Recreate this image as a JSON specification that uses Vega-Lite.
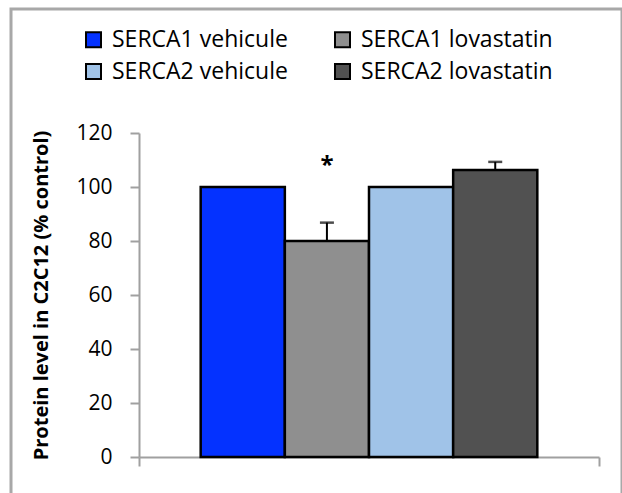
{
  "$schema": "https://vega.github.io/schema/vega-lite/v6.json",
  "width": 611,
  "height": 490,
  "autosize": {"type": "none"},
  "padding": {"left": 11, "top": 9, "right": 0, "bottom": -6},
  "background": "white",
  "config": {
    "font": "Open Sans",
    "view": {"stroke": "#a8a8a8", "strokeWidth": 3}
  },
  "data": {
    "values": [
      {"cell": "C2C12", "series": "SERCA1 vehicule", "value": 100},
      {"cell": "C2C12", "series": "SERCA1 lovastatin", "value": 80, "upper": 86.8, "sig": "*"},
      {"cell": "C2C12", "series": "SERCA2 vehicule", "value": 100},
      {"cell": "C2C12", "series": "SERCA2 lovastatin", "value": 106.3, "upper": 109.3}
    ]
  },
  "encoding": {
    "x": {
      "field": "cell",
      "type": "nominal",
      "scale": {"range": [128, 588], "paddingInner": 0, "paddingOuter": 0},
      "axis": {
        "title": null,
        "labels": false,
        "offset": -42,
        "tickBand": "extent",
        "domainColor": "#a0a0a0",
        "domainWidth": 2,
        "tickColor": "#a0a0a0",
        "tickWidth": 2,
        "tickSize": 9
      }
    },
    "xOffset": {
      "field": "series",
      "type": "nominal",
      "sort": ["SERCA1 vehicule", "SERCA1 lovastatin", "SERCA2 vehicule", "SERCA2 lovastatin"],
      "scale": {"paddingInner": 0, "paddingOuter": 0.733}
    }
  },
  "layer": [
    {
      "mark": {"type": "bar", "stroke": "black", "strokeWidth": 2.5},
      "encoding": {
        "y": {
          "field": "value",
          "type": "quantitative",
          "title": "Protein level in C2C12 (% control)",
          "scale": {"domain": [0, 120], "range": [448, 124], "nice": false, "zero": true},
          "axis": {
            "values": [0, 20, 40, 60, 80, 100, 120],
            "offset": -128,
            "grid": false,
            "domainColor": "#a0a0a0",
            "domainWidth": 2,
            "tickColor": "#a0a0a0",
            "tickWidth": 2,
            "tickSize": 9,
            "labelFontSize": 21,
            "labelColor": "black",
            "labelPadding": 18,
            "titleFontSize": 20,
            "titleFontWeight": "bold",
            "titleColor": "black",
            "titlePadding": 24
          }
        },
        "color": {
          "field": "series",
          "type": "nominal",
          "sort": ["SERCA1 vehicule", "SERCA1 lovastatin", "SERCA2 vehicule", "SERCA2 lovastatin"],
          "scale": {
            "domain": ["SERCA1 vehicule", "SERCA1 lovastatin", "SERCA2 vehicule", "SERCA2 lovastatin"],
            "range": ["#0432ff", "#8f8f8f", "#a0c3e8", "#515151"]
          },
          "legend": {
            "title": null,
            "orient": "none",
            "direction": "horizontal",
            "legendX": 71,
            "legendY": 19,
            "columns": 2,
            "columnPadding": 43,
            "rowPadding": 8,
            "symbolType": "square",
            "symbolSize": 225,
            "symbolStrokeColor": "black",
            "symbolStrokeWidth": 2,
            "labelFontSize": 23,
            "labelLimit": 400,
            "labelColor": "black",
            "labelOffset": 7
          }
        }
      }
    },
    {
      "mark": {"type": "rule", "color": "black", "strokeWidth": 2},
      "encoding": {
        "y": {"field": "value", "type": "quantitative", "title": "Protein level in C2C12 (% control)"},
        "y2": {"field": "upper"}
      }
    },
    {
      "mark": {"type": "tick", "color": "black", "thickness": 2.5, "size": 14, "orient": "horizontal"},
      "encoding": {
        "y": {"field": "upper", "type": "quantitative", "title": "Protein level in C2C12 (% control)"}
      }
    },
    {
      "transform": [{"filter": "datum.sig"}],
      "mark": {"type": "text", "fontSize": 24, "fontWeight": "bold", "color": "black", "baseline": "middle", "dy": 6},
      "encoding": {
        "y": {"datum": 110, "type": "quantitative", "title": "Protein level in C2C12 (% control)"},
        "text": {"field": "sig"}
      }
    }
  ]
}
